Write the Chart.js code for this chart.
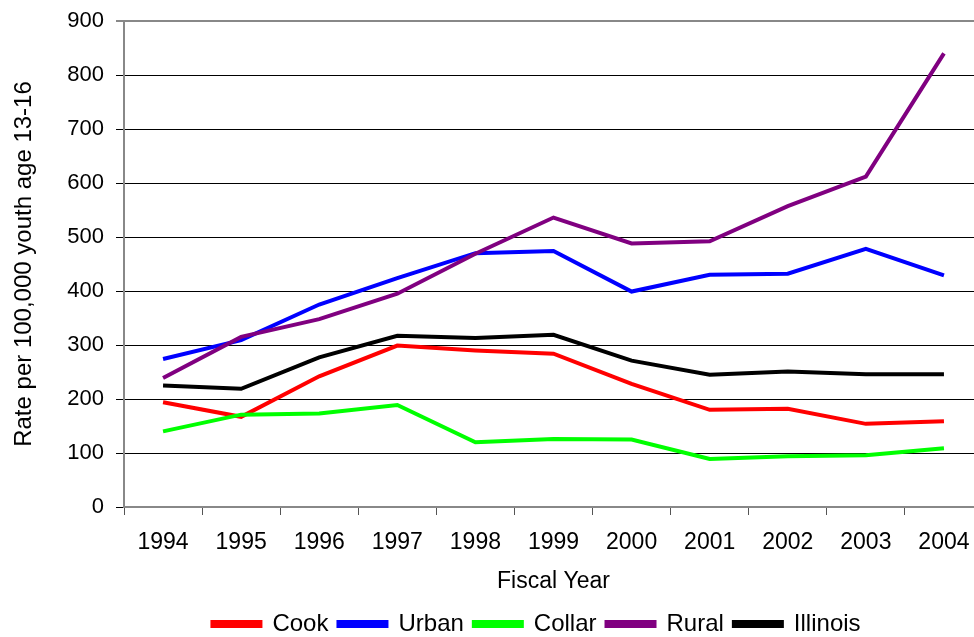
<!DOCTYPE html>
<html lang="en">
<head>
    <meta charset="UTF-8">
    <title>Rate per 100,000 youth</title>
    <script src="https://cdn.jsdelivr.net/npm/chart.js"></script>
    <style>
        html, body { margin: 0; padding: 0; background: #fff; overflow: hidden; }
        #wrap { width: 1000px; height: 637px; }
    </style>
</head>
<body>
    <div id="wrap"><canvas id="myLineChart" width="1000" height="637"></canvas></div>
    <script>
        var years = ['1994','1995','1996','1997','1998','1999','2000','2001','2002','2003','2004'];
        var cook     = [194, 167, 242, 299, 290, 284, 228, 180, 182, 154, 159];
        var urban    = [274, 309, 375, 424, 470, 474, 399, 430, 432, 478, 429];
        var collar   = [140, 171, 173, 189, 120, 126, 125, 89, 94, 96, 109];
        var rural    = [239, 315, 348, 395, 469, 536, 488, 492, 557, 612, 840];
        var illinois = [225, 219, 277, 317, 313, 319, 271, 245, 251, 246, 246];
        var yTicks = [0, 100, 200, 300, 400, 500, 600, 700, 800, 900];

        var font = 'Liberation Sans, Arial, sans-serif';

        function series(label, values, color, idx) {
            return {
                label: label,
                data: values,
                borderColor: color,
                backgroundColor: color,
                borderWidth: 4,
                pointRadius: 0,
                tension: 0,
                order: 5 - idx   // later series on top, like the original
            };
        }

        // nudge the legend to where the original had it
        var moveLegend = {
            id: 'moveLegend',
            afterLayout: function (chart) {
                var lg = chart.legend;
                lg.left += 45; lg.right += 45;
                lg.top += 9; lg.bottom += 9;
            }
        };

        new Chart(document.querySelector('#myLineChart'), {
            type: 'line',
            data: {
                labels: years,
                datasets: [
                    series('Cook', cook, '#ff0000', 0),
                    series('Urban', urban, '#0000ff', 1),
                    series('Collar', collar, '#00ff00', 2),
                    series('Rural', rural, '#800080', 3),
                    series('Illinois', illinois, '#000000', 4)
                ]
            },
            plugins: [moveLegend],
            options: {
                responsive: false,
                animation: false,
                layout: { autoPadding: false, padding: { top: 21, right: 17, left: 0, bottom: 0 } },
                plugins: {
                    tooltip: { enabled: false },
                    legend: {
                        position: 'bottom',
                        labels: {
                            font: { family: font, size: 24 },
                            color: '#000',
                            boxWidth: 48,
                            boxHeight: 4,
                            padding: 10,
                            sort: function (a, b) { return a.datasetIndex - b.datasetIndex; }
                        }
                    }
                },
                scales: {
                    x: {
                        offset: true,
                        grid: {
                            offset: true,
                            drawOnChartArea: false,
                            drawTicks: true,
                            tickLength: 8,
                            color: '#555'
                        },
                        border: { color: '#888', width: 2 },
                        ticks: { font: { family: font, size: 23 }, color: '#000', padding: 14, maxRotation: 0 },
                        title: { display: true, text: 'Fiscal Year', font: { family: font, size: 23 }, color: '#000', padding: { top: 0, bottom: -2 } },
                        afterFit: function (scale) { scale.height = 86; scale.paddingLeft = 0; scale.paddingRight = 0; }
                    },
                    y: {
                        min: 0,
                        max: 900,
                        afterBuildTicks: function (scale) {
                            scale.ticks = yTicks.map(function (v) { return { value: v }; });
                        },
                        grid: {
                            color: function (ctx) { return ctx.tick && ctx.tick.value === 900 ? '#888' : '#000'; },
                            lineWidth: function (ctx) { return ctx.tick && ctx.tick.value === 900 ? 2 : 1; },
                            tickLength: 8
                        },
                        border: { color: '#888', width: 2 },
                        ticks: { font: { family: font, size: 22 }, color: '#000', padding: 12 },
                        title: { display: true, text: 'Rate per 100,000 youth age 13-16', font: { family: font, size: 24 }, color: '#000', padding: { top: 10, bottom: 0 } },
                        afterFit: function (scale) { scale.width = 124; scale.paddingTop = 0; scale.paddingBottom = 0; }
                    }
                }
            }
        });
    </script>
</body>
</html>
